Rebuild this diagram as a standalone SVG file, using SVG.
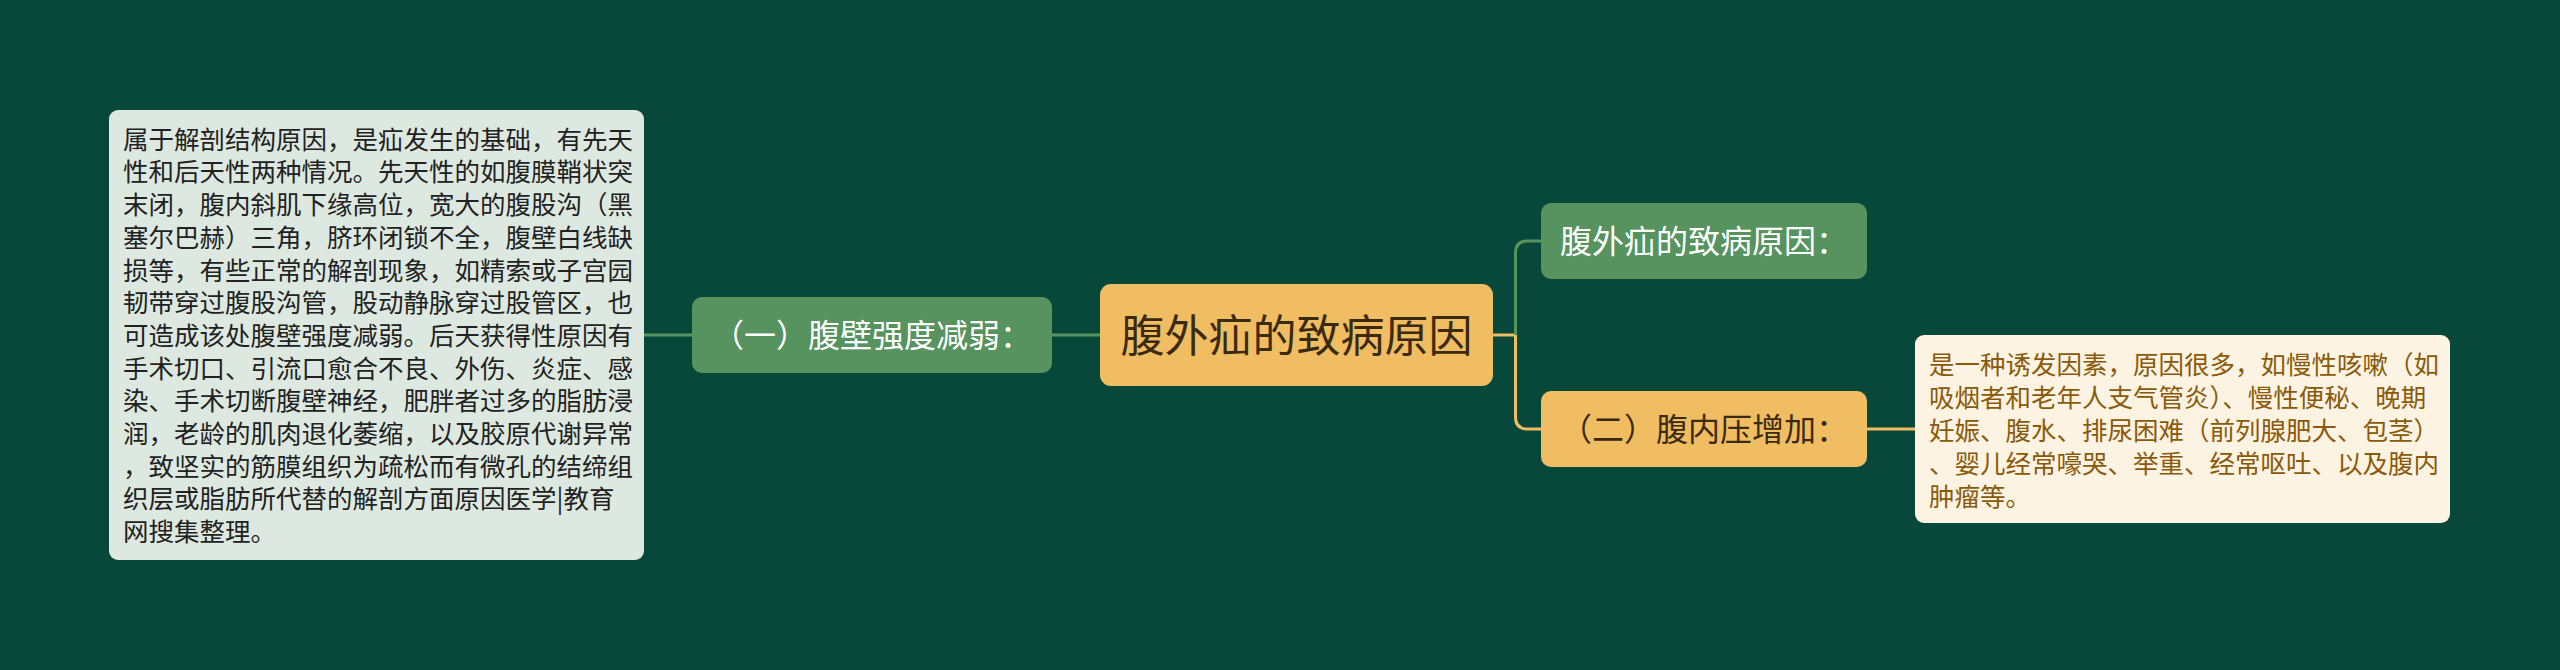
<svg xmlns="http://www.w3.org/2000/svg" width="2560" height="670" viewBox="0 0 2560 670">
<style>
text{font-family:"Noto Sans CJK SC","Noto Sans",sans-serif;}
.bg{fill:#08483A;}
.green{fill:#56935F;}
.yellow{fill:#F0BD62;}
.tw{fill:#FFFFFF;font-size:32px;text-anchor:middle;}
.td{fill:#3A2A10;font-size:32px;text-anchor:middle;}
.troot{fill:#3A2A10;font-size:44px;text-anchor:middle;}
.lbox{fill:#DDE9E0;}
.rbox{fill:#FDF3E3;}
.lt{fill:#222222;font-size:25.5px;}
.rt{fill:#8A5A0A;font-size:25.5px;}
.cg{stroke:#56935F;stroke-width:3;fill:none;}
.cy{stroke:#F0BD62;stroke-width:3;fill:none;}
</style>
<rect class="bg" x="0" y="0" width="2560" height="670"/>
<g id="connectors">
<line class="cg" x1="644" y1="335" x2="693" y2="335"/>
<line class="cg" x1="1051" y1="335" x2="1101" y2="335"/>
<line class="cy" x1="1492" y1="335" x2="1516" y2="335"/>
<path class="cg" d="M1515.5 335 V253 Q1515.5 241 1527.5 241 H1542"/>
<path class="cy" d="M1515.5 335 V417 Q1515.5 429 1527.5 429 H1542"/>
<line class="cy" x1="1866" y1="429" x2="1916" y2="429"/>
</g>
<g id="node-left-text">
<rect class="lbox" x="109" y="110" width="535" height="450" rx="9"/>
<text class="lt" x="123">
<tspan x="123" y="148.7">属于解剖结构原因，是疝发生的基础，有先天</tspan>
<tspan x="123" y="181.4">性和后天性两种情况。先天性的如腹膜鞘状突</tspan>
<tspan x="123" y="214.1">末闭，腹内斜肌下缘高位，宽大的腹股沟（黑</tspan>
<tspan x="123" y="246.8">塞尔巴赫）三角，脐环闭锁不全，腹壁白线缺</tspan>
<tspan x="123" y="279.5">损等，有些正常的解剖现象，如精索或子宫园</tspan>
<tspan x="123" y="312.2">韧带穿过腹股沟管，股动静脉穿过股管区，也</tspan>
<tspan x="123" y="344.9">可造成该处腹壁强度减弱。后天获得性原因有</tspan>
<tspan x="123" y="377.6">手术切口、引流口愈合不良、外伤、炎症、感</tspan>
<tspan x="123" y="410.3">染、手术切断腹壁神经，肥胖者过多的脂肪浸</tspan>
<tspan x="123" y="443.0">润，老龄的肌肉退化萎缩，以及胶原代谢异常</tspan>
<tspan x="123" y="475.7">，致坚实的筋膜组织为疏松而有微孔的结缔组</tspan>
<tspan x="123" y="508.4">织层或脂肪所代替的解剖方面原因医学|教育</tspan>
<tspan x="123" y="541.1">网搜集整理。</tspan>
</text>
</g>
<g id="node-1">
<rect class="green" x="692" y="297" width="360" height="76" rx="10"/>
<text class="tw" x="872" y="347">（一）腹壁强度减弱：</text>
</g>
<g id="node-root">
<rect class="yellow" x="1100" y="284" width="393" height="102" rx="11"/>
<text class="troot" x="1296.5" y="351.7">腹外疝的致病原因</text>
</g>
<g id="node-top">
<rect class="green" x="1541" y="203" width="326" height="76" rx="10"/>
<text class="tw" x="1704" y="253">腹外疝的致病原因：</text>
</g>
<g id="node-2">
<rect class="yellow" x="1541" y="391" width="326" height="76" rx="10"/>
<text class="td" x="1704" y="441">（二）腹内压增加：</text>
</g>
<g id="node-right-text">
<rect class="rbox" x="1915" y="335" width="535" height="188" rx="9"/>
<text class="rt" x="1929">
<tspan x="1929" y="373.7">是一种诱发因素，原因很多，如慢性咳嗽（如</tspan>
<tspan x="1929" y="406.7">吸烟者和老年人支气管炎）、慢性便秘、晚期</tspan>
<tspan x="1929" y="439.7">妊娠、腹水、排尿困难（前列腺肥大、包茎）</tspan>
<tspan x="1929" y="472.7">、婴儿经常嚎哭、举重、经常呕吐、以及腹内</tspan>
<tspan x="1929" y="505.7">肿瘤等。</tspan>
</text>
</g>
</svg>
